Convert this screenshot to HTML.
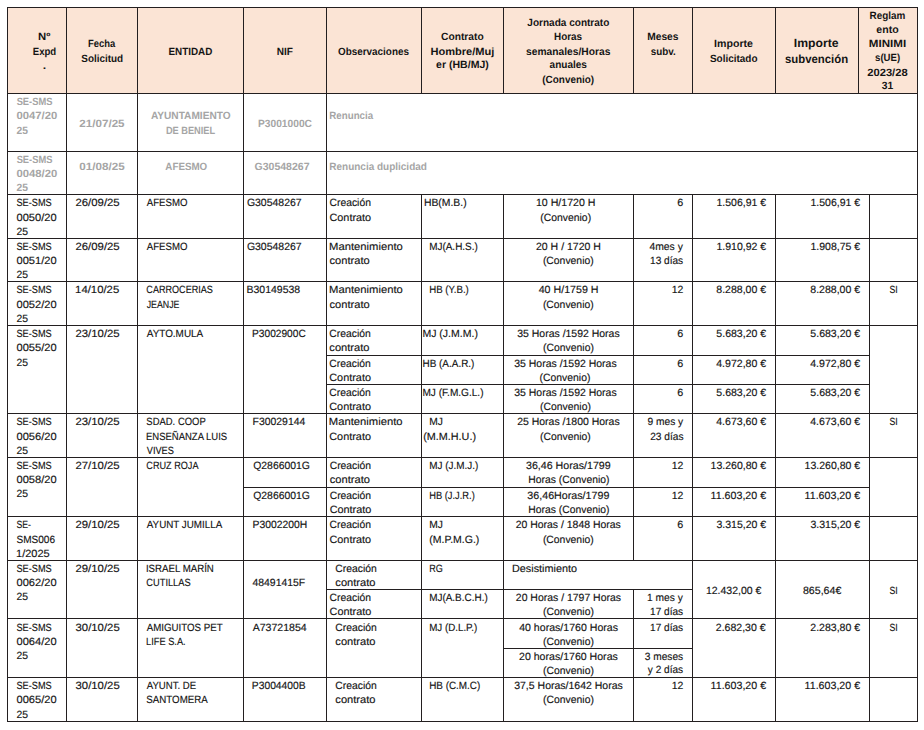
<!DOCTYPE html>
<html lang="es"><head><meta charset="utf-8"><title>Tabla de expedientes SE-SMS</title>
<style>
html,body{margin:0;padding:0;background:#fff;}
body{width:924px;height:730px;overflow:hidden;}
svg{display:block;}
text{font-family:"Liberation Sans",Arial,sans-serif;white-space:pre;text-rendering:geometricPrecision;}
.h,.hb,.g{font-weight:bold;}
.h,.hb,.n{fill:#141414;}
.g{fill:#a5a5a5;}
.n{stroke:#141414;stroke-width:0.15px;}
.h,.g,.n{font-size:10.5px;}
.hb{font-size:11.9px;}
</style></head><body>
<svg width="924" height="730" viewBox="0 0 924 730">
<rect x="8" y="8" width="909" height="85" fill="#fbe4d5"/>
<g fill="#231f20" shape-rendering="crispEdges">
<rect x="7" y="7" width="911" height="1"/>
<rect x="7" y="93" width="911" height="1"/>
<rect x="7" y="151" width="911" height="1"/>
<rect x="7" y="194" width="911" height="1"/>
<rect x="7" y="238" width="911" height="1"/>
<rect x="7" y="281" width="911" height="1"/>
<rect x="7" y="325" width="911" height="1"/>
<rect x="326" y="355" width="544" height="1"/>
<rect x="326" y="384" width="544" height="1"/>
<rect x="7" y="413" width="911" height="1"/>
<rect x="7" y="457" width="911" height="1"/>
<rect x="243" y="487" width="627" height="1"/>
<rect x="7" y="516" width="911" height="1"/>
<rect x="7" y="560" width="911" height="1"/>
<rect x="326" y="589" width="367" height="1"/>
<rect x="7" y="618" width="911" height="1"/>
<rect x="503" y="648" width="190" height="1"/>
<rect x="7" y="677" width="911" height="1"/>
<rect x="7" y="721" width="911" height="1"/>
<rect x="7" y="7" width="1" height="715"/>
<rect x="66" y="7" width="1" height="715"/>
<rect x="137" y="7" width="1" height="715"/>
<rect x="243" y="7" width="1" height="715"/>
<rect x="326" y="7" width="1" height="715"/>
<rect x="421" y="7" width="1" height="87"/>
<rect x="421" y="194" width="1" height="528"/>
<rect x="503" y="7" width="1" height="87"/>
<rect x="503" y="194" width="1" height="528"/>
<rect x="633" y="7" width="1" height="87"/>
<rect x="633" y="194" width="1" height="367"/>
<rect x="633" y="589" width="1" height="133"/>
<rect x="692" y="7" width="1" height="87"/>
<rect x="692" y="194" width="1" height="528"/>
<rect x="775" y="7" width="1" height="87"/>
<rect x="775" y="194" width="1" height="528"/>
<rect x="858" y="7" width="1" height="87"/>
<rect x="869" y="194" width="1" height="528"/>
<rect x="917" y="7" width="1" height="715"/>
</g>
<text class="h" x="38.07" y="40" textLength="12.3" lengthAdjust="spacingAndGlyphs">Nº</text>
<text class="h" x="32.78" y="55" textLength="23.43" lengthAdjust="spacingAndGlyphs">Expd</text>
<text class="h" x="42.79" y="69" textLength="3.42" lengthAdjust="spacingAndGlyphs">.</text>
<text class="h" x="88.02" y="47" textLength="27.27" lengthAdjust="spacingAndGlyphs">Fecha</text>
<text class="h" x="81.29" y="62" textLength="41.79" lengthAdjust="spacingAndGlyphs">Solicitud</text>
<text class="h" x="168.46" y="55" textLength="43.85" lengthAdjust="spacingAndGlyphs">ENTIDAD</text>
<text class="h" x="276.75" y="55" textLength="16.2" lengthAdjust="spacingAndGlyphs">NIF</text>
<text class="h" x="338.03" y="55" textLength="70.94" lengthAdjust="spacingAndGlyphs">Observaciones</text>
<text class="h" x="441.11" y="40" textLength="42.56" lengthAdjust="spacingAndGlyphs">Contrato</text>
<text class="h" x="430.44" y="55" textLength="63.96" lengthAdjust="spacingAndGlyphs">Hombre/Muj</text>
<text class="h" x="436.11" y="68" textLength="52.69" lengthAdjust="spacingAndGlyphs">er (HB/MJ)</text>
<text class="h" x="527.33" y="26" textLength="81.99" lengthAdjust="spacingAndGlyphs">Jornada contrato</text>
<text class="h" x="554.05" y="40" textLength="28.04" lengthAdjust="spacingAndGlyphs">Horas</text>
<text class="h" x="526.12" y="55" textLength="84.22" lengthAdjust="spacingAndGlyphs">semanales/Horas</text>
<text class="h" x="549.57" y="68" textLength="37.38" lengthAdjust="spacingAndGlyphs">anuales</text>
<text class="h" x="542.3" y="83" textLength="51.81" lengthAdjust="spacingAndGlyphs">(Convenio)</text>
<text class="h" x="647.25" y="40" textLength="31.24" lengthAdjust="spacingAndGlyphs">Meses</text>
<text class="h" x="650.7" y="55" textLength="24.94" lengthAdjust="spacingAndGlyphs">subv.</text>
<text class="h" x="714.07" y="47" textLength="38.91" lengthAdjust="spacingAndGlyphs">Importe</text>
<text class="h" x="709.99" y="62" textLength="47.51" lengthAdjust="spacingAndGlyphs">Solicitado</text>
<text class="hb" x="793.82" y="47" textLength="44.76" lengthAdjust="spacingAndGlyphs">Importe</text>
<text class="hb" x="784.97" y="63" textLength="63.17" lengthAdjust="spacingAndGlyphs">subvención</text>
<text class="h" x="869.56" y="19" textLength="35.84" lengthAdjust="spacingAndGlyphs">Reglam</text>
<text class="h" x="876.35" y="33" textLength="22.31" lengthAdjust="spacingAndGlyphs">ento</text>
<text class="h" x="868.84" y="47" textLength="37.31" lengthAdjust="spacingAndGlyphs">MINIMI</text>
<text class="h" x="875.07" y="61" textLength="25.01" lengthAdjust="spacingAndGlyphs">s(UE)</text>
<text class="h" x="867.26" y="76" textLength="40.43" lengthAdjust="spacingAndGlyphs">2023/28</text>
<text class="h" x="881.79" y="89" textLength="11.47" lengthAdjust="spacingAndGlyphs">31</text>
<text class="g" x="16.63" y="105" textLength="35.78" lengthAdjust="spacingAndGlyphs">SE-SMS</text>
<text class="g" x="16.46" y="119" textLength="40.86" lengthAdjust="spacingAndGlyphs">0047/20</text>
<text class="g" x="16.54" y="134" textLength="11.48" lengthAdjust="spacingAndGlyphs">25</text>
<text class="g" x="79.37" y="127" textLength="45.19" lengthAdjust="spacingAndGlyphs">21/07/25</text>
<text class="g" x="150.93" y="119" textLength="79.71" lengthAdjust="spacingAndGlyphs">AYUNTAMIENTO</text>
<text class="g" x="165.88" y="134" textLength="49.31" lengthAdjust="spacingAndGlyphs">DE BENIEL</text>
<text class="g" x="258.05" y="127" textLength="53.89" lengthAdjust="spacingAndGlyphs">P3001000C</text>
<text class="g" x="329.35" y="119" textLength="43.81" lengthAdjust="spacingAndGlyphs">Renuncia</text>
<text class="g" x="16.63" y="163" textLength="35.78" lengthAdjust="spacingAndGlyphs">SE-SMS</text>
<text class="g" x="16.46" y="177" textLength="40.86" lengthAdjust="spacingAndGlyphs">0048/20</text>
<text class="g" x="16.54" y="191" textLength="11.48" lengthAdjust="spacingAndGlyphs">25</text>
<text class="g" x="79.24" y="170" textLength="45.41" lengthAdjust="spacingAndGlyphs">01/08/25</text>
<text class="g" x="165.33" y="170" textLength="41.91" lengthAdjust="spacingAndGlyphs">AFESMO</text>
<text class="g" x="254.54" y="170" textLength="54.95" lengthAdjust="spacingAndGlyphs">G30548267</text>
<text class="g" x="329.33" y="170" textLength="97.54" lengthAdjust="spacingAndGlyphs">Renuncia duplicidad</text>
<text class="n" x="16.49" y="206" textLength="35.23" lengthAdjust="spacingAndGlyphs">SE-SMS</text>
<text class="n" x="16.47" y="221" textLength="40.18" lengthAdjust="spacingAndGlyphs">0050/20</text>
<text class="n" x="16.38" y="235" textLength="11.56" lengthAdjust="spacingAndGlyphs">25</text>
<text class="n" x="75.43" y="206" textLength="44.27" lengthAdjust="spacingAndGlyphs">26/09/25</text>
<text class="n" x="146.78" y="206" textLength="40.72" lengthAdjust="spacingAndGlyphs">AFESMO</text>
<text class="n" x="246.88" y="206" textLength="54.84" lengthAdjust="spacingAndGlyphs">G30548267</text>
<text class="n" x="329.47" y="206" textLength="41.46" lengthAdjust="spacingAndGlyphs">Creación</text>
<text class="n" x="329.45" y="221" textLength="41.71" lengthAdjust="spacingAndGlyphs">Contrato</text>
<text class="n" x="423.95" y="206" textLength="42.69" lengthAdjust="spacingAndGlyphs">HB(M.B.)</text>
<text class="n" x="535.94" y="206" textLength="59.58" lengthAdjust="spacingAndGlyphs">10 H/1720 H</text>
<text class="n" x="540.29" y="221" textLength="50.81" lengthAdjust="spacingAndGlyphs">(Convenio)</text>
<text class="n" x="677.28" y="206" textLength="6" lengthAdjust="spacingAndGlyphs">6</text>
<text class="n" x="716.49" y="206" textLength="49.66" lengthAdjust="spacingAndGlyphs">1.506,91 €</text>
<text class="n" x="810.49" y="206" textLength="49.66" lengthAdjust="spacingAndGlyphs">1.506,91 €</text>
<text class="n" x="16.49" y="250" textLength="35.23" lengthAdjust="spacingAndGlyphs">SE-SMS</text>
<text class="n" x="16.47" y="264" textLength="40.18" lengthAdjust="spacingAndGlyphs">0051/20</text>
<text class="n" x="16.38" y="278" textLength="11.56" lengthAdjust="spacingAndGlyphs">25</text>
<text class="n" x="75.43" y="250" textLength="44.27" lengthAdjust="spacingAndGlyphs">26/09/25</text>
<text class="n" x="146.78" y="250" textLength="40.72" lengthAdjust="spacingAndGlyphs">AFESMO</text>
<text class="n" x="246.88" y="250" textLength="54.84" lengthAdjust="spacingAndGlyphs">G30548267</text>
<text class="n" x="329.08" y="250" textLength="73.67" lengthAdjust="spacingAndGlyphs">Mantenimiento</text>
<text class="n" x="329.53" y="264" textLength="40.23" lengthAdjust="spacingAndGlyphs">contrato</text>
<text class="n" x="429.18" y="250" textLength="48.61" lengthAdjust="spacingAndGlyphs">MJ(A.H.S.)</text>
<text class="n" x="535.94" y="250" textLength="65.05" lengthAdjust="spacingAndGlyphs">20 H / 1720 H</text>
<text class="n" x="542.89" y="264" textLength="50.81" lengthAdjust="spacingAndGlyphs">(Convenio)</text>
<text class="n" x="649.38" y="250" textLength="33.44" lengthAdjust="spacingAndGlyphs">4mes y</text>
<text class="n" x="650.05" y="264" textLength="33.11" lengthAdjust="spacingAndGlyphs">13 días</text>
<text class="n" x="716.49" y="250" textLength="49.66" lengthAdjust="spacingAndGlyphs">1.910,92 €</text>
<text class="n" x="810.49" y="250" textLength="49.66" lengthAdjust="spacingAndGlyphs">1.908,75 €</text>
<text class="n" x="16.49" y="293" textLength="35.23" lengthAdjust="spacingAndGlyphs">SE-SMS</text>
<text class="n" x="16.47" y="308" textLength="40.18" lengthAdjust="spacingAndGlyphs">0052/20</text>
<text class="n" x="16.38" y="322" textLength="11.56" lengthAdjust="spacingAndGlyphs">25</text>
<text class="n" x="75.14" y="293" textLength="44.08" lengthAdjust="spacingAndGlyphs">14/10/25</text>
<text class="n" x="146.34" y="293" textLength="66.53" lengthAdjust="spacingAndGlyphs">CARROCERIAS</text>
<text class="n" x="146.66" y="308" textLength="32.77" lengthAdjust="spacingAndGlyphs">JEANJE</text>
<text class="n" x="246.54" y="293" textLength="53.61" lengthAdjust="spacingAndGlyphs">B30149538</text>
<text class="n" x="329.08" y="293" textLength="73.67" lengthAdjust="spacingAndGlyphs">Mantenimiento</text>
<text class="n" x="329.53" y="308" textLength="40.23" lengthAdjust="spacingAndGlyphs">contrato</text>
<text class="n" x="429.21" y="293" textLength="39.59" lengthAdjust="spacingAndGlyphs">HB (Y.B.)</text>
<text class="n" x="538.69" y="293" textLength="59.83" lengthAdjust="spacingAndGlyphs">40 H/1759 H</text>
<text class="n" x="542.89" y="308" textLength="50.81" lengthAdjust="spacingAndGlyphs">(Convenio)</text>
<text class="n" x="671.71" y="293" textLength="11.62" lengthAdjust="spacingAndGlyphs">12</text>
<text class="n" x="716.29" y="293" textLength="49.86" lengthAdjust="spacingAndGlyphs">8.288,00 €</text>
<text class="n" x="810.29" y="293" textLength="49.86" lengthAdjust="spacingAndGlyphs">8.288,00 €</text>
<text class="n" x="889.4" y="293" textLength="8.21" lengthAdjust="spacingAndGlyphs">SI</text>
<text class="n" x="16.49" y="337" textLength="35.23" lengthAdjust="spacingAndGlyphs">SE-SMS</text>
<text class="n" x="16.47" y="351" textLength="40.18" lengthAdjust="spacingAndGlyphs">0055/20</text>
<text class="n" x="16.38" y="366" textLength="11.56" lengthAdjust="spacingAndGlyphs">25</text>
<text class="n" x="75.43" y="337" textLength="44.27" lengthAdjust="spacingAndGlyphs">23/10/25</text>
<text class="n" x="146.78" y="337" textLength="56.42" lengthAdjust="spacingAndGlyphs">AYTO.MULA</text>
<text class="n" x="252.07" y="337" textLength="53.72" lengthAdjust="spacingAndGlyphs">P3002900C</text>
<text class="n" x="329.27" y="337" textLength="41.46" lengthAdjust="spacingAndGlyphs">Creación</text>
<text class="n" x="329.33" y="351" textLength="40.23" lengthAdjust="spacingAndGlyphs">contrato</text>
<text class="n" x="422.44" y="337" textLength="55.45" lengthAdjust="spacingAndGlyphs">MJ (J.M.M.)</text>
<text class="n" x="517.28" y="337" textLength="102.41" lengthAdjust="spacingAndGlyphs">35 Horas /1592 Horas</text>
<text class="n" x="543.09" y="351" textLength="50.81" lengthAdjust="spacingAndGlyphs">(Convenio)</text>
<text class="n" x="677.28" y="337" textLength="6" lengthAdjust="spacingAndGlyphs">6</text>
<text class="n" x="716.39" y="337" textLength="49.76" lengthAdjust="spacingAndGlyphs">5.683,20 €</text>
<text class="n" x="810.39" y="337" textLength="49.76" lengthAdjust="spacingAndGlyphs">5.683,20 €</text>
<text class="n" x="329.27" y="367" textLength="41.46" lengthAdjust="spacingAndGlyphs">Creación</text>
<text class="n" x="329.25" y="381" textLength="41.71" lengthAdjust="spacingAndGlyphs">Contrato</text>
<text class="n" x="422.48" y="367" textLength="51.97" lengthAdjust="spacingAndGlyphs">HB (A.A.R.)</text>
<text class="n" x="514.28" y="367" textLength="102.41" lengthAdjust="spacingAndGlyphs">35 Horas /1592 Horas</text>
<text class="n" x="539.59" y="381" textLength="50.81" lengthAdjust="spacingAndGlyphs">(Convenio)</text>
<text class="n" x="677.28" y="367" textLength="6" lengthAdjust="spacingAndGlyphs">6</text>
<text class="n" x="716.23" y="367" textLength="49.92" lengthAdjust="spacingAndGlyphs">4.972,80 €</text>
<text class="n" x="810.23" y="367" textLength="49.92" lengthAdjust="spacingAndGlyphs">4.972,80 €</text>
<text class="n" x="329.27" y="396" textLength="41.46" lengthAdjust="spacingAndGlyphs">Creación</text>
<text class="n" x="329.25" y="410" textLength="41.71" lengthAdjust="spacingAndGlyphs">Contrato</text>
<text class="n" x="422.47" y="396" textLength="61.04" lengthAdjust="spacingAndGlyphs">MJ (F.M.G.L.)</text>
<text class="n" x="514.28" y="396" textLength="102.41" lengthAdjust="spacingAndGlyphs">35 Horas /1592 Horas</text>
<text class="n" x="540.09" y="410" textLength="50.81" lengthAdjust="spacingAndGlyphs">(Convenio)</text>
<text class="n" x="677.28" y="396" textLength="6" lengthAdjust="spacingAndGlyphs">6</text>
<text class="n" x="716.39" y="396" textLength="49.76" lengthAdjust="spacingAndGlyphs">5.683,20 €</text>
<text class="n" x="810.39" y="396" textLength="49.76" lengthAdjust="spacingAndGlyphs">5.683,20 €</text>
<text class="n" x="16.49" y="425" textLength="35.23" lengthAdjust="spacingAndGlyphs">SE-SMS</text>
<text class="n" x="16.47" y="440" textLength="40.18" lengthAdjust="spacingAndGlyphs">0056/20</text>
<text class="n" x="16.38" y="454" textLength="11.56" lengthAdjust="spacingAndGlyphs">25</text>
<text class="n" x="75.43" y="425" textLength="44.27" lengthAdjust="spacingAndGlyphs">23/10/25</text>
<text class="n" x="146.37" y="425" textLength="59.36" lengthAdjust="spacingAndGlyphs">SDAD. COOP</text>
<text class="n" x="146.02" y="440" textLength="81.18" lengthAdjust="spacingAndGlyphs">ENSEÑANZA LUIS</text>
<text class="n" x="146.76" y="454" textLength="27.09" lengthAdjust="spacingAndGlyphs">VIVES</text>
<text class="n" x="252.54" y="425" textLength="52.77" lengthAdjust="spacingAndGlyphs">F30029144</text>
<text class="n" x="328.88" y="425" textLength="73.67" lengthAdjust="spacingAndGlyphs">Mantenimiento</text>
<text class="n" x="329.25" y="440" textLength="41.71" lengthAdjust="spacingAndGlyphs">Contrato</text>
<text class="n" x="429.26" y="425" textLength="13.68" lengthAdjust="spacingAndGlyphs">MJ</text>
<text class="n" x="423.23" y="440" textLength="52.81" lengthAdjust="spacingAndGlyphs">(M.M.H.U.)</text>
<text class="n" x="517.15" y="425" textLength="102.55" lengthAdjust="spacingAndGlyphs">25 Horas /1800 Horas</text>
<text class="n" x="539.99" y="440" textLength="50.81" lengthAdjust="spacingAndGlyphs">(Convenio)</text>
<text class="n" x="647.44" y="425" textLength="35.78" lengthAdjust="spacingAndGlyphs">9 mes y</text>
<text class="n" x="650.22" y="440" textLength="33.35" lengthAdjust="spacingAndGlyphs">23 días</text>
<text class="n" x="716.23" y="425" textLength="49.92" lengthAdjust="spacingAndGlyphs">4.673,60 €</text>
<text class="n" x="810.23" y="425" textLength="49.92" lengthAdjust="spacingAndGlyphs">4.673,60 €</text>
<text class="n" x="889.4" y="425" textLength="8.21" lengthAdjust="spacingAndGlyphs">SI</text>
<text class="n" x="16.49" y="469" textLength="35.23" lengthAdjust="spacingAndGlyphs">SE-SMS</text>
<text class="n" x="16.47" y="483" textLength="40.18" lengthAdjust="spacingAndGlyphs">0058/20</text>
<text class="n" x="16.38" y="497" textLength="11.56" lengthAdjust="spacingAndGlyphs">25</text>
<text class="n" x="75.43" y="469" textLength="44.27" lengthAdjust="spacingAndGlyphs">27/10/25</text>
<text class="n" x="146.33" y="469" textLength="52.19" lengthAdjust="spacingAndGlyphs">CRUZ ROJA</text>
<text class="n" x="253.21" y="469" textLength="56.72" lengthAdjust="spacingAndGlyphs">Q2866001G</text>
<text class="n" x="329.67" y="469" textLength="41.46" lengthAdjust="spacingAndGlyphs">Creación</text>
<text class="n" x="329.73" y="483" textLength="40.23" lengthAdjust="spacingAndGlyphs">contrato</text>
<text class="n" x="429.19" y="469" textLength="49.13" lengthAdjust="spacingAndGlyphs">MJ (J.M.J.)</text>
<text class="n" x="526.04" y="469" textLength="84.61" lengthAdjust="spacingAndGlyphs">36,46 Horas/1799</text>
<text class="n" x="528.36" y="483" textLength="81.08" lengthAdjust="spacingAndGlyphs">Horas (Convenio)</text>
<text class="n" x="671.71" y="469" textLength="11.62" lengthAdjust="spacingAndGlyphs">12</text>
<text class="n" x="710.59" y="469" textLength="55.56" lengthAdjust="spacingAndGlyphs">13.260,80 €</text>
<text class="n" x="804.59" y="469" textLength="55.56" lengthAdjust="spacingAndGlyphs">13.260,80 €</text>
<text class="n" x="253.21" y="499" textLength="56.72" lengthAdjust="spacingAndGlyphs">Q2866001G</text>
<text class="n" x="329.67" y="499" textLength="41.46" lengthAdjust="spacingAndGlyphs">Creación</text>
<text class="n" x="329.65" y="513" textLength="41.71" lengthAdjust="spacingAndGlyphs">Contrato</text>
<text class="n" x="429.24" y="499" textLength="45.53" lengthAdjust="spacingAndGlyphs">HB (J.J.R.)</text>
<text class="n" x="527.36" y="499" textLength="81.98" lengthAdjust="spacingAndGlyphs">36,46Horas/1799</text>
<text class="n" x="528.36" y="513" textLength="81.08" lengthAdjust="spacingAndGlyphs">Horas (Convenio)</text>
<text class="n" x="671.71" y="499" textLength="11.62" lengthAdjust="spacingAndGlyphs">12</text>
<text class="n" x="710.57" y="499" textLength="55.58" lengthAdjust="spacingAndGlyphs">11.603,20 €</text>
<text class="n" x="804.57" y="499" textLength="55.58" lengthAdjust="spacingAndGlyphs">11.603,20 €</text>
<text class="n" x="16.51" y="528" textLength="14.5" lengthAdjust="spacingAndGlyphs">SE-</text>
<text class="n" x="16.45" y="543" textLength="38.56" lengthAdjust="spacingAndGlyphs">SMS006</text>
<text class="n" x="16.06" y="557" textLength="33.63" lengthAdjust="spacingAndGlyphs">1/2025</text>
<text class="n" x="75.43" y="528" textLength="44.27" lengthAdjust="spacingAndGlyphs">29/10/25</text>
<text class="n" x="146.78" y="528" textLength="75.44" lengthAdjust="spacingAndGlyphs">AYUNT JUMILLA</text>
<text class="n" x="252.55" y="528" textLength="54.67" lengthAdjust="spacingAndGlyphs">P3002200H</text>
<text class="n" x="329.47" y="528" textLength="41.46" lengthAdjust="spacingAndGlyphs">Creación</text>
<text class="n" x="329.45" y="543" textLength="41.71" lengthAdjust="spacingAndGlyphs">Contrato</text>
<text class="n" x="429.16" y="528" textLength="13.68" lengthAdjust="spacingAndGlyphs">MJ</text>
<text class="n" x="429.35" y="543" textLength="50.01" lengthAdjust="spacingAndGlyphs">(M.P.M.G.)</text>
<text class="n" x="515.64" y="528" textLength="105.18" lengthAdjust="spacingAndGlyphs">20 Horas / 1848 Horas</text>
<text class="n" x="542.89" y="543" textLength="50.81" lengthAdjust="spacingAndGlyphs">(Convenio)</text>
<text class="n" x="677.28" y="528" textLength="6" lengthAdjust="spacingAndGlyphs">6</text>
<text class="n" x="716.41" y="528" textLength="49.74" lengthAdjust="spacingAndGlyphs">3.315,20 €</text>
<text class="n" x="810.41" y="528" textLength="49.74" lengthAdjust="spacingAndGlyphs">3.315,20 €</text>
<text class="n" x="16.49" y="572" textLength="35.23" lengthAdjust="spacingAndGlyphs">SE-SMS</text>
<text class="n" x="16.47" y="586" textLength="40.18" lengthAdjust="spacingAndGlyphs">0062/20</text>
<text class="n" x="16.38" y="600" textLength="11.56" lengthAdjust="spacingAndGlyphs">25</text>
<text class="n" x="75.43" y="572" textLength="44.27" lengthAdjust="spacingAndGlyphs">29/10/25</text>
<text class="n" x="145.91" y="572" textLength="67.94" lengthAdjust="spacingAndGlyphs">ISRAEL MARÍN</text>
<text class="n" x="146.33" y="586" textLength="44.3" lengthAdjust="spacingAndGlyphs">CUTILLAS</text>
<text class="n" x="252.46" y="586" textLength="52.72" lengthAdjust="spacingAndGlyphs">48491415F</text>
<text class="n" x="335.27" y="572" textLength="41.46" lengthAdjust="spacingAndGlyphs">Creación</text>
<text class="n" x="335.33" y="586" textLength="40.23" lengthAdjust="spacingAndGlyphs">contrato</text>
<text class="n" x="429.26" y="572" textLength="13.55" lengthAdjust="spacingAndGlyphs">RG</text>
<text class="n" x="512.01" y="572" textLength="64.96" lengthAdjust="spacingAndGlyphs">Desistimiento</text>
<text class="n" x="329.57" y="601" textLength="41.46" lengthAdjust="spacingAndGlyphs">Creación</text>
<text class="n" x="329.55" y="615" textLength="41.71" lengthAdjust="spacingAndGlyphs">Contrato</text>
<text class="n" x="429.18" y="601" textLength="58.54" lengthAdjust="spacingAndGlyphs">MJ(A.B.C.H.)</text>
<text class="n" x="515.84" y="601" textLength="105.18" lengthAdjust="spacingAndGlyphs">20 Horas / 1797 Horas</text>
<text class="n" x="543.09" y="615" textLength="50.81" lengthAdjust="spacingAndGlyphs">(Convenio)</text>
<text class="n" x="647.01" y="601" textLength="35.81" lengthAdjust="spacingAndGlyphs">1 mes y</text>
<text class="n" x="650.05" y="615" textLength="33.11" lengthAdjust="spacingAndGlyphs">17 días</text>
<text class="n" x="705.89" y="594" textLength="55.56" lengthAdjust="spacingAndGlyphs">12.432,00 €</text>
<text class="n" x="802.95" y="594" textLength="38.38" lengthAdjust="spacingAndGlyphs">865,64€</text>
<text class="n" x="889.4" y="594" textLength="8.21" lengthAdjust="spacingAndGlyphs">SI</text>
<text class="n" x="16.49" y="631" textLength="35.23" lengthAdjust="spacingAndGlyphs">SE-SMS</text>
<text class="n" x="16.47" y="645" textLength="40.18" lengthAdjust="spacingAndGlyphs">0064/20</text>
<text class="n" x="16.38" y="659" textLength="11.56" lengthAdjust="spacingAndGlyphs">25</text>
<text class="n" x="75.57" y="631" textLength="44.12" lengthAdjust="spacingAndGlyphs">30/10/25</text>
<text class="n" x="146.78" y="631" textLength="75.9" lengthAdjust="spacingAndGlyphs">AMIGUITOS PET</text>
<text class="n" x="146.04" y="645" textLength="39.67" lengthAdjust="spacingAndGlyphs">LIFE S.A.</text>
<text class="n" x="252.68" y="631" textLength="54.07" lengthAdjust="spacingAndGlyphs">A73721854</text>
<text class="n" x="335.27" y="631" textLength="41.46" lengthAdjust="spacingAndGlyphs">Creación</text>
<text class="n" x="335.33" y="645" textLength="40.23" lengthAdjust="spacingAndGlyphs">contrato</text>
<text class="n" x="429.2" y="631" textLength="48.13" lengthAdjust="spacingAndGlyphs">MJ (D.L.P.)</text>
<text class="n" x="519.16" y="631" textLength="98.83" lengthAdjust="spacingAndGlyphs">40 horas/1760 Horas</text>
<text class="n" x="543.09" y="645" textLength="50.81" lengthAdjust="spacingAndGlyphs">(Convenio)</text>
<text class="n" x="650.05" y="631" textLength="33.11" lengthAdjust="spacingAndGlyphs">17 días</text>
<text class="n" x="519.04" y="660" textLength="98.79" lengthAdjust="spacingAndGlyphs">20 horas/1760 Horas</text>
<text class="n" x="543.09" y="674" textLength="50.81" lengthAdjust="spacingAndGlyphs">(Convenio)</text>
<text class="n" x="644.78" y="660" textLength="38.38" lengthAdjust="spacingAndGlyphs">3 meses</text>
<text class="n" x="647.84" y="673" textLength="35.32" lengthAdjust="spacingAndGlyphs">y 2 días</text>
<text class="n" x="715.77" y="631" textLength="49.88" lengthAdjust="spacingAndGlyphs">2.682,30 €</text>
<text class="n" x="810.27" y="631" textLength="49.88" lengthAdjust="spacingAndGlyphs">2.283,80 €</text>
<text class="n" x="889.4" y="631" textLength="8.21" lengthAdjust="spacingAndGlyphs">SI</text>
<text class="n" x="16.49" y="689" textLength="35.23" lengthAdjust="spacingAndGlyphs">SE-SMS</text>
<text class="n" x="16.47" y="703" textLength="40.18" lengthAdjust="spacingAndGlyphs">0065/20</text>
<text class="n" x="16.38" y="718" textLength="11.56" lengthAdjust="spacingAndGlyphs">25</text>
<text class="n" x="75.57" y="689" textLength="44.12" lengthAdjust="spacingAndGlyphs">30/10/25</text>
<text class="n" x="146.78" y="689" textLength="49.41" lengthAdjust="spacingAndGlyphs">AYUNT. DE</text>
<text class="n" x="146.36" y="703" textLength="61.41" lengthAdjust="spacingAndGlyphs">SANTOMERA</text>
<text class="n" x="251.86" y="689" textLength="53.74" lengthAdjust="spacingAndGlyphs">P3004400B</text>
<text class="n" x="335.27" y="689" textLength="41.46" lengthAdjust="spacingAndGlyphs">Creación</text>
<text class="n" x="335.33" y="703" textLength="40.23" lengthAdjust="spacingAndGlyphs">contrato</text>
<text class="n" x="429.19" y="689" textLength="51.12" lengthAdjust="spacingAndGlyphs">HB (C.M.C)</text>
<text class="n" x="514.2" y="689" textLength="108.59" lengthAdjust="spacingAndGlyphs">37,5 Horas/1642 Horas</text>
<text class="n" x="543.09" y="703" textLength="50.81" lengthAdjust="spacingAndGlyphs">(Convenio)</text>
<text class="n" x="671.71" y="689" textLength="11.62" lengthAdjust="spacingAndGlyphs">12</text>
<text class="n" x="710.57" y="689" textLength="55.58" lengthAdjust="spacingAndGlyphs">11.603,20 €</text>
<text class="n" x="804.57" y="689" textLength="55.58" lengthAdjust="spacingAndGlyphs">11.603,20 €</text>
</svg>
</body></html>
